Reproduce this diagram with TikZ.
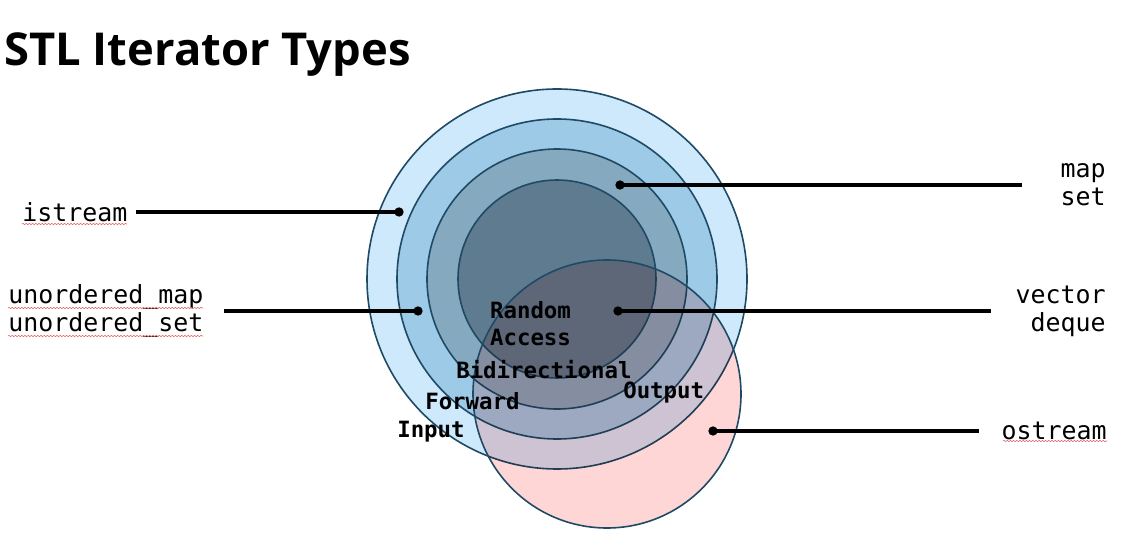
\documentclass[tikz,border=0pt]{standalone}
\usepackage{fontspec}
\setmonofont{DejaVu Sans Mono}
\newfontfamily\titlefont{Open Sans}
\usepackage{tikz}
\usetikzlibrary{decorations.pathmorphing}

\definecolor{ringline}{HTML}{1F4A66}
\definecolor{inputfill}{HTML}{CDE9FB}
\definecolor{forwardfill}{HTML}{9DCAE6}
\definecolor{bidirfill}{HTML}{85A9BF}
\definecolor{randomfill}{HTML}{5E7B90}
\definecolor{outputfill}{HTML}{FFD6D6}
\definecolor{typored}{HTML}{E06060}

\tikzset{
  ring/.style={draw=ringline, line width=1.2pt},
  tag/.style={font=\ttfamily\fontsize{18.7}{21}\selectfont, inner sep=0pt},
  kind/.style={font=\ttfamily\bfseries\fontsize{16.8}{20.2}\selectfont, inner sep=0pt},
  dot/.style={circle, fill=black, inner sep=0pt, minimum size=7pt},
  leader/.style={line width=2.3pt},
  typo/.style={draw=typored, line width=0.4pt, decorate,
    decoration={snake, amplitude=0.5pt, segment length=2.4pt}}
}

\begin{document}
\begin{tikzpicture}[x=0.75pt, y=-0.75pt]
  \useasboundingbox (0,0) rectangle (1128,541);
  \node[font=\titlefont\bfseries\fontsize{34}{40}\selectfont, anchor=base west, inner sep=0pt] (title) at (4,66) {STL Iterator Types};

  % nested iterator categories
  \coordinate (hub) at (557,279);
  \coordinate (outc) at (607,394);
  \fill[inputfill] (hub) circle (190);
  \draw[ring] (hub) circle (190);
  \fill[forwardfill] (hub) circle (160);
  \draw[ring] (hub) circle (160);
  \fill[bidirfill] (hub) circle (130);
  \draw[ring] (hub) circle (130);
  \fill[randomfill] (hub) circle (99);
  \draw[ring] (hub) circle (99);
  \fill[outputfill, blend mode=multiply] (outc) circle (134);
  \draw[ring] (outc) circle (134);

  \node[kind, align=center] (random) at (530.5,323.5) {Random\\Access};
  \node[kind, anchor=base west] (bidir) at (456,379) {Bidirectional};
  \node[kind, anchor=base west] (output) at (623,399) {Output};
  \node[kind, anchor=base west] (forward) at (425,410) {Forward};
  \node[kind, anchor=base west] (input) at (397,437) {Input};

  % containers
  \node[dot] (idot) at (399,212) {};
  \node[dot] (udot) at (418,311) {};
  \node[dot] (mdot) at (620,185) {};
  \node[dot] (vdot) at (618,311) {};
  \node[dot] (odot) at (713,431) {};

  \node[tag, anchor=west] (istream) at (22,212) {istream};
  \node[tag, anchor=west, align=left] (unord) at (8,311) {unordered\_map\\unordered\_set};
  \node[tag, anchor=east, align=right] (mapset) at (1106,185) {map\\set};
  \node[tag, anchor=east, align=right] (vecdeq) at (1106,311) {vector\\deque};
  \node[tag, anchor=east] (ostream) at (1107,431) {ostream};

  \draw[leader, shorten <=6pt] (istream.east |- idot) -- (idot.center);
  \draw[leader, shorten <=15pt] (unord.east |- udot) -- (udot.center);
  \draw[leader, shorten >=29pt] (mdot.center) -- (mdot -| mapset.west);
  \draw[leader, shorten >=18pt] (vdot.center) -- (vdot -| vecdeq.west);
  \draw[leader, shorten >=17pt] (odot.center) -- (odot -| ostream.west);

  % spell-check marks
  \draw[typo] (22,224) -- (127,224);
  \draw[typo] (8,308) -- (203,308);
  \draw[typo] (8,336) -- (203,336);
  \draw[typo] (1003,441) -- (1107,441);
\end{tikzpicture}
\end{document}
